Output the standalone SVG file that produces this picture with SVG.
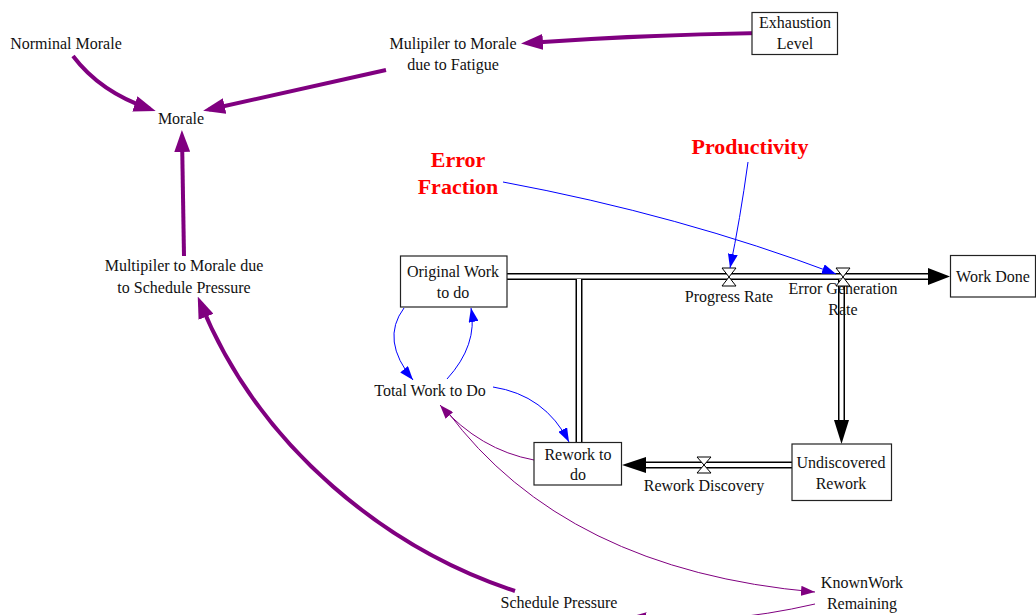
<svg xmlns="http://www.w3.org/2000/svg" width="1036" height="615" viewBox="0 0 1036 615">
<defs>
<style>
.t{font-family:"Liberation Serif","Times New Roman",serif;font-size:16px;fill:#111;text-anchor:middle}
.r{font-family:"Liberation Serif","Times New Roman",serif;font-size:22px;font-weight:bold;fill:#ff0000;text-anchor:middle}
.box{fill:#fff;stroke:#222;stroke-width:1.2}
.thick{fill:none;stroke:#800080;stroke-width:4}
.thinp{fill:none;stroke:#800080;stroke-width:1}
.blue{fill:none;stroke:#0000ff;stroke-width:1}
.pipeo{fill:none;stroke:#000;stroke-width:7}
.pipei{fill:none;stroke:#fff;stroke-width:4}
.valve{fill:#fff;stroke:#000;stroke-width:1}
</style>
<marker id="mBig" markerUnits="userSpaceOnUse" markerWidth="22" markerHeight="16" viewBox="0 0 22 16" refX="16" refY="8" orient="auto"><path d="M0,0 L22,8 L0,16 z" fill="#800080"/></marker>
<marker id="mP" markerUnits="userSpaceOnUse" markerWidth="14" markerHeight="10" viewBox="0 0 14 10" refX="14" refY="5" orient="auto"><path d="M0,0 L14,5 L0,10 z" fill="#800080"/></marker>
<marker id="mB" markerUnits="userSpaceOnUse" markerWidth="14" markerHeight="10" viewBox="0 0 14 10" refX="14" refY="5" orient="auto"><path d="M0,0 L14,5 L0,10 z" fill="#0000ff"/></marker>
</defs>

<g id="pipes">
<path class="pipeo" d="M507,276.5 L930,276.5"/>
<path class="pipeo" d="M579,276.5 L579,443"/>
<path class="pipeo" d="M841.5,276.5 L841.5,422"/>
<path class="pipeo" d="M792,465 L644,465"/>
<path class="pipei" d="M507,276.5 L930,276.5"/>
<path class="pipei" d="M579,279 L579,443"/>
<path class="pipei" d="M841.5,279 L841.5,422"/>
<path class="pipei" d="M792,465 L644,465"/>
<polygon points="928,268 950,276.5 928,285" fill="#000"/>
<polygon points="834,420 849,420 841.5,444" fill="#000"/>
<polygon points="646,457 646,473 622,465" fill="#000"/>
</g>

<g id="valves">
<g id="progress-rate"><polygon class="valve" points="722,268 736,268 729,277 722,286 736,286 729,277"/><text class="t" x="729" y="302">Progress Rate</text></g>
<g id="error-generation-rate"><polygon class="valve" points="836,268 850,268 843,277 836,286 850,286 843,277"/><text class="t" x="843" y="294">Error Generation</text><text class="t" x="843" y="315">Rate</text></g>
<g id="rework-discovery"><polygon class="valve" points="697,457 711,457 704,465 697,473 711,473 704,465"/><text class="t" x="704" y="491">Rework Discovery</text></g>
</g>

<g id="connectors">
<path class="thick" marker-end="url(#mBig)" d="M760,33 Q640,35 527,43"/>
<path class="thick" marker-end="url(#mBig)" d="M386,70 L209,109.5"/>
<path class="thick" marker-end="url(#mBig)" d="M73,56 Q100,92 150,109"/>
<path class="thick" marker-end="url(#mBig)" d="M184,256 L182,136"/>
<path class="thick" marker-end="url(#mBig)" d="M515,591 C390,550 260,450 200,302"/>
<path class="thinp" marker-end="url(#mP)" d="M534,460 Q480,450 440,405"/>
<path class="thinp" marker-end="url(#mP)" d="M447,411 Q565,570 815,592"/>
<path class="thinp" marker-end="url(#mBig)" d="M815,604 Q720,626 630,619"/>
<path class="blue" marker-end="url(#mB)" d="M503,182 Q680,215 836,274"/>
<path class="blue" marker-end="url(#mB)" d="M748,162 Q740,220 730,268"/>
<path class="blue" marker-end="url(#mB)" d="M404,308 Q380,340 413,380"/>
<path class="blue" marker-end="url(#mB)" d="M447,379 Q478,345 471,308"/>
<path class="blue" marker-end="url(#mB)" d="M493,387 Q545,395 569,442"/>
</g>

<g id="norminal-morale"><text class="t" x="66" y="49">Norminal Morale</text></g>
<g id="mulipiler-fatigue"><text class="t" x="453" y="49">Mulipiler to Morale</text><text class="t" x="453" y="70">due to Fatigue</text></g>
<g id="exhaustion-level"><rect class="box" x="752" y="12.5" width="85.5" height="42"/><text class="t" x="795" y="28">Exhaustion</text><text class="t" x="795" y="49">Level</text></g>
<g id="morale"><text class="t" x="181" y="124">Morale</text></g>
<g id="multipiler-schedule"><text class="t" x="184" y="271">Multipiler to Morale due</text><text class="t" x="184" y="293">to Schedule Pressure</text></g>
<g id="error-fraction"><text class="r" x="458" y="167">Error</text><text class="r" x="458" y="194">Fraction</text></g>
<g id="productivity"><text class="r" x="750" y="154">Productivity</text></g>
<g id="original-work"><rect class="box" x="400.5" y="256" width="106.5" height="51"/><text class="t" x="453" y="277">Original Work</text><text class="t" x="453" y="298">to do</text></g>
<g id="work-done"><rect class="box" x="950.5" y="255.5" width="85" height="41.5"/><text class="t" x="993" y="282">Work Done</text></g>
<g id="total-work"><text class="t" x="430" y="396">Total Work to Do</text></g>
<g id="rework-to-do"><rect class="box" x="534" y="442.5" width="87.5" height="42.5"/><text class="t" x="578" y="460">Rework to</text><text class="t" x="578" y="480">do</text></g>
<g id="undiscovered-rework"><rect class="box" x="792" y="444" width="99.5" height="56.5"/><text class="t" x="841" y="468">Undiscovered</text><text class="t" x="841" y="489">Rework</text></g>
<g id="knownwork-remaining"><text class="t" x="862" y="588">KnownWork</text><text class="t" x="862" y="609">Remaining</text></g>
<g id="schedule-pressure"><text class="t" x="559" y="608">Schedule Pressure</text></g>
</svg>
